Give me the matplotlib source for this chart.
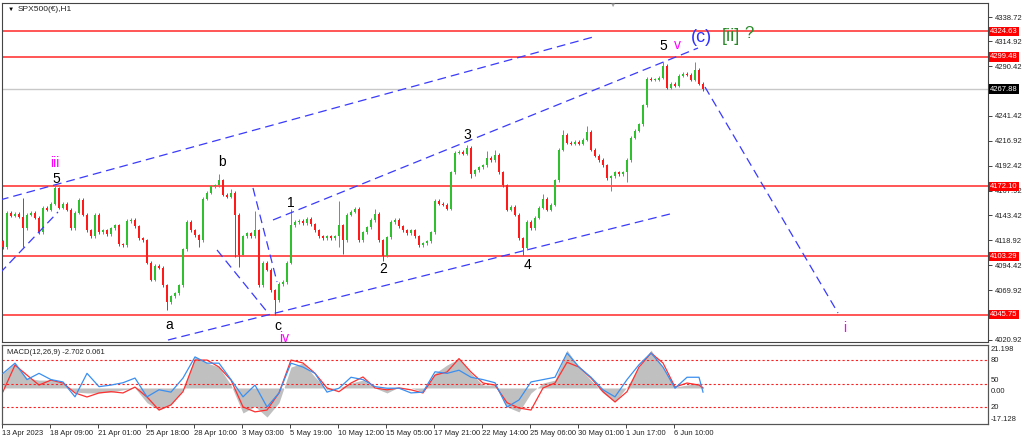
import matplotlib
matplotlib.use("Agg")
import matplotlib.pyplot as plt
import matplotlib.transforms as mtransforms
import numpy as np

plt.rcParams['font.family'] = ['Liberation Sans', 'DejaVu Sans']

# ---- data ----
symbol = "SPX500(€),H1"

close = [4112, 4146, 4143, 4145, 4142, 4131, 4144, 4146, 4141, 4127,
         4151, 4149, 4155, 4170, 4151, 4155, 4149, 4131, 4146, 4159,
         4144, 4129, 4123, 4144, 4127, 4129, 4125, 4131, 4134, 4115,
         4114, 4138, 4139, 4133, 4121, 4119, 4097, 4080, 4094, 4092,
         4075, 4058, 4064, 4067, 4075, 4110, 4137, 4129, 4124, 4119,
         4160, 4166, 4172, 4173, 4178, 4164, 4162, 4166, 4144, 4105,
         4123, 4126, 4123, 4129, 4075, 4097, 4090, 4070, 4060, 4076,
         4078, 4097, 4134, 4137, 4138, 4136, 4140, 4135, 4129, 4123,
         4121, 4123, 4121, 4123, 4134, 4119, 4144, 4147, 4150, 4119,
         4127, 4132, 4139, 4145, 4119, 4104, 4122, 4137, 4139, 4133,
         4129, 4126, 4129, 4123, 4114, 4116, 4118, 4127, 4158, 4155,
         4154, 4150, 4186, 4205, 4206, 4204, 4210, 4184, 4188, 4191,
         4193, 4200, 4198, 4203, 4186, 4173, 4149, 4152, 4144, 4121,
         4111, 4137, 4131, 4141, 4151, 4160, 4149, 4154, 4178, 4208,
         4223, 4215, 4214, 4216, 4214, 4218, 4226, 4208, 4202, 4198,
         4193, 4180, 4182, 4186, 4184, 4186, 4198, 4220, 4227, 4233,
         4252, 4278, 4277, 4277, 4279, 4291, 4269, 4273, 4271, 4281,
         4283, 4282, 4277, 4287, 4273, 4267.88]
first_open = 4118

spike_high = {5: 4161, 13: 4172, 19: 4161, 54: 4184, 57: 4169, 63: 4148,
              72: 4150, 84: 4158, 93: 4150, 116: 4213, 121: 4207, 123: 4208,
              135: 4165, 140: 4228, 146: 4231, 165: 4294, 173: 4294}
spike_low = {5: 4112, 41: 4050, 49: 4112, 58: 4103, 59: 4093, 68: 4046,
             84: 4112, 85: 4106, 95: 4099, 117: 4180, 130: 4105, 152: 4168,
             156: 4176}

levels = [4324.63, 4299.48, 4172.10, 4103.29, 4045.75]
bid = 4267.88
price_ticks = [4338.72, 4314.92, 4290.42, 4241.42, 4216.92, 4192.42,
               4167.92, 4143.42, 4118.92, 4094.42, 4069.92, 4020.92]

time_labels = ["13 Apr 2023", "18 Apr 09:00", "21 Apr 01:00", "25 Apr 18:00",
               "28 Apr 10:00", "3 May 03:00", "5 May 19:00", "10 May 12:00",
               "15 May 05:00", "17 May 21:00", "22 May 14:00", "25 May 06:00",
               "30 May 01:00", "1 Jun 17:00", "6 Jun 10:00"]

# trend lines: (bar0, price0, bar1, price1)
trend_lines = [(-0.75, 4158.7, 147.5, 4319.0),
               (-0.75, 4086.8, 13.75, 4146.9),
               (53.5, 4109.5, 66.25, 4047.5),
               (62.5, 4170.5, 68.5, 4078.0),
               (41.25, 4020.9, 166.75, 4144.9),
               (67.5, 4139.0, 173.75, 4308.2),
               (175.5, 4269.8, 208.75, 4047.5)]

# wave labels: (text, bar, price, colour, size)
wave_labels = [("iii", 13, 4195.1, "#ff00ff", 10),
               ("5", 13.25, 4179.3, "black", 10),
               ("b", 54.75, 4196.0, "black", 10),
               ("a", 41.5, 4035.7, "black", 10),
               ("c", 68.75, 4034.7, "black", 10),
               ("iv", 70.25, 4022.9, "#ff00ff", 10),
               ("1", 72, 4155.7, "black", 10),
               ("2", 95, 4090.8, "black", 10),
               ("3", 116, 4222.6, "black", 10),
               ("4", 131, 4094.7, "black", 10),
               ("5", 165, 4310.2, "black", 10),
               ("v", 168.5, 4311.2, "#ff00ff", 10),
               ("(c)", 174.5, 4319.0, "#3030ff", 13),
               ("[ii]", 182.0, 4320.0, "#2a8a2a", 13),
               ("?", 186.5, 4322.0, "#2a8a2a", 12),
               ("i", 210.5, 4032.7, "#ff00ff", 10)]

# MACD panel, sampled every 3 bars
macd_main = [8, 13.6, 5.4, 4.3, 4.3, 2.7, -2.2, -2.7, -2.7, -2.2,
             -1, 0, -8, -12, -9, -1, 17, 13.6, 11.4, 1.6,
             -13.6, -10, -15.8, -8, 11.4, 13.6, 6, -1, 0, 2.7,
             4.3, 0, -2.7, 0.5, 0, -2, 8, 12.5, 16, 8,
             1.6, 1.6, -10.3, -13, -2.7, 2.7, 4.3, 20.6, 11.4, 4.3,
             -2.7, -7.6, 0.5, 11.4, 20.6, 11.4, 0.5, 1.6, 2.7, 0.5]
macd_signal = [-2, 12.5, 7, 1.6, 4.3, 2.7, -2.7, -4.9, -2.7, -2,
               -2.7, 0.5, -4.9, -12, -9.2, -2, 15.2, 15.2, 11.4, 4.3,
               -10.3, -13, -12, -2.7, 15.2, 13.6, 8, 0, -2, 2.7,
               6, 0, -1, 0, -1, -2.7, 7, 8.7, 16, 8.7,
               2.7, 1.6, -8, -10.9, -12, 0, 2.7, 14, 11.4, 5.4,
               -2, -7.6, -2, 11.4, 19, 13.6, 0.5, 2.7, 1.6, 0]
osc_line = [63, 76, 55, 63, 55, 52, 33, 63, 46, 48,
            51, 57, 33, 42, 39, 57, 84, 76, 76, 55,
            33, 48, 20, 38, 76, 71, 63, 39, 44, 58,
            55, 46, 44, 44, 38, 39, 65, 63, 67, 58,
            55, 51, 20, 29, 52, 55, 58, 89, 71, 58,
            42, 33, 55, 74, 89, 71, 44, 58, 58, 39]
osc_levels = [80, 50, 20]

# ---- layout in pixels ----
W, H = 1024, 441


def frac(x0, y0, x1, y1):
    return [x0 / W, 1 - y1 / H, (x1 - x0) / W, (y1 - y0) / H]


fig = plt.figure(figsize=(W / 100, H / 100), dpi=100, facecolor="white")
ax = fig.add_axes(frac(2, 3, 988, 342))
axm = fig.add_axes(frac(2, 345, 988, 424), sharex=ax)
axo = axm.twinx()

xmin, xmax = -0.25, 246.25
ax.set_xlim(xmin, xmax)
ax.set_ylim(4018.95, 4352.5)

# candles
n = len(close)
x = np.arange(n)
c = np.array(close, dtype=float)
o = np.concatenate([[first_open], c[:-1]])
hi = np.maximum(o, c) + 1.5
lo = np.minimum(o, c) - 1.5
for k, v in spike_high.items():
    hi[k] = max(hi[k], v)
for k, v in spike_low.items():
    lo[k] = min(lo[k], v)
up = c >= o
cols = np.where(up, "#2fbf2f", "#ff1a1a")
ax.vlines(x, lo, hi, colors=cols, lw=0.7, zorder=3)
body = np.maximum(np.abs(c - o), 0.8)
ax.bar(x, body, bottom=np.minimum(o, c), width=0.5, color=cols,
       edgecolor="none", zorder=3)

# horizontal levels
for lv in levels:
    ax.axhline(lv, color="#ff3838", lw=1.2, zorder=2)
ax.axhline(bid, color="#c8c8c8", lw=1.0, zorder=1)

# trend lines
for b0, p0, b1, p1 in trend_lines:
    ax.plot([b0, b1], [p0, p1], color="#3a3aff", lw=0.9,
            dashes=(7, 4), zorder=4)

# wave labels
for txt, b, p, col, sz in wave_labels:
    ax.text(b, p, txt, color=col, fontsize=sz, ha="center", va="center",
            zorder=5, clip_on=True)

# symbol header
ax.text(0.006, 0.982, "▼", transform=ax.transAxes, fontsize=4.5,
        color="black", va="center", ha="left")
ax.text(0.016, 0.982, symbol, transform=ax.transAxes, fontsize=6,
        color="#222222", va="center", ha="left")
ax.text(611 / 986, 0.992, "▼", transform=ax.transAxes, fontsize=4.5,
        color="#a0a0a0", va="center", ha="center")

# right price scale
ax.yaxis.tick_right()
ax.set_yticks(price_ticks)
ax.set_yticklabels([f"{t:.2f}" for t in price_ticks])
ax.tick_params(axis="y", length=3, width=0.6, labelsize=5.5, pad=2,
               colors="#222222")
ax.tick_params(axis="x", bottom=False, labelbottom=False)
trans = mtransforms.blended_transform_factory(ax.transAxes, ax.transData)
for lv in levels:
    ax.text(1.002, lv, f"{lv:.2f}", transform=trans, fontsize=5.5,
            color="white", va="center", ha="left", zorder=6,
            bbox=dict(boxstyle="square,pad=0.15", fc="#ff0000", ec="none"))
ax.text(1.002, bid, f"{bid:.2f}", transform=trans, fontsize=5.5,
        color="white", va="center", ha="left", zorder=6,
        bbox=dict(boxstyle="square,pad=0.15", fc="black", ec="none"))

for sp in ax.spines.values():
    sp.set_color("#444444")
    sp.set_linewidth(0.8)

# ---- MACD panel ----
mx = list(range(0, n, 3)) + [n - 1]
axm.set_ylim(-19.6, 23.4)
axo.set_ylim(-1.7, 99.2)
axm.fill_between(mx, 0, macd_main, color="#c0c0c0", lw=0, zorder=1)
axm.plot(mx, macd_signal, color="#ff3030", lw=0.9, zorder=3)
axo.plot(mx, osc_line, color="#3a8ff0", lw=0.9, zorder=4)
for lv in osc_levels:
    axo.axhline(lv, color="#ff2020", lw=0.8, dashes=(2, 2))

axm.set_yticks([])
axo.set_yticks([])
axm.tick_params(axis="y", left=False, labelleft=False)
mtrans = mtransforms.blended_transform_factory(axm.transAxes, axm.transData)
otrans = mtransforms.blended_transform_factory(axo.transAxes, axo.transData)
for v, s, va in [(21.198, "21.198", "center"), (0.0, "0.00", "top"),
                 (-17.128, "-17.128", "center")]:
    axm.text(1.003, v, s, transform=mtrans, fontsize=5.5, color="#222222",
             va=va, ha="left", clip_on=False)
for v in osc_levels:
    axo.text(1.003, v, str(v), transform=otrans, fontsize=5.5,
             color="#222222", va="bottom" if v == 50 else "center",
             ha="left", clip_on=False)
axm.text(0.005, 0.9, "MACD(12,26,9) -2.702 0.061", transform=axm.transAxes,
         fontsize=5.5, color="#222222", va="center", ha="left")

axm.set_xticks(np.arange(0, 12 * len(time_labels), 12) - 0.25)
axm.set_xticklabels(time_labels)
for lab in axm.get_xticklabels():
    lab.set_horizontalalignment("left")
axm.tick_params(axis="x", length=3, width=0.6, labelsize=5.5, pad=1.5,
                colors="#222222")
for a in (axm, axo):
    for sp in a.spines.values():
        sp.set_color("#555555")
        sp.set_linewidth(0.8)

fig.savefig("out.png", dpi=100, facecolor="white")
